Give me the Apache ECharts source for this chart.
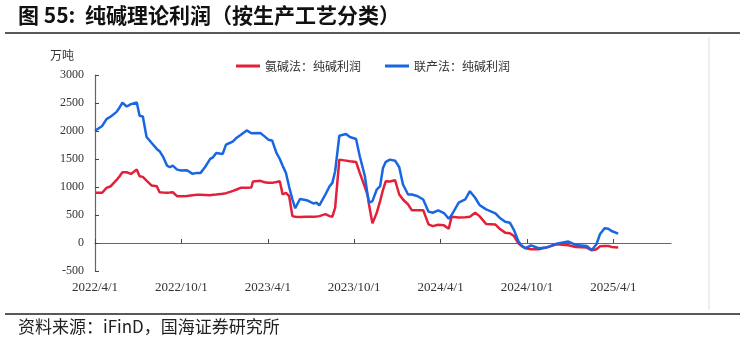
<!DOCTYPE html>
<html><head><meta charset="utf-8">
<script src="https://cdn.jsdelivr.net/npm/echarts@6/dist/echarts.min.js"></script>
<style>html,body{margin:0;padding:0;background:#fff}#c{width:744px;height:343px}</style>
</head><body><div id="c"></div>
<script>
const titleText = '图 55:  纯碱理论利润（按生产工艺分类）';
const sourceText = '资料来源：iFinD，国海证券研究所';
const unitText = '万吨';
const seriesNames = ['氨碱法：纯碱利润', '联产法：纯碱利润'];
const dates = [
'2022-04-01','2022-04-16','2022-04-25','2022-05-04','2022-05-16','2022-05-23','2022-05-29','2022-06-07','2022-06-16','2022-06-28',
'2022-07-04','2022-07-11','2022-07-19','2022-07-30','2022-08-10','2022-08-16','2022-08-23','2022-09-01','2022-09-07','2022-09-13',
'2022-09-22','2022-10-01','2022-10-13','2022-10-25','2022-11-04','2022-11-11','2022-11-20','2022-12-01','2022-12-07','2022-12-14',
'2022-12-28','2023-01-04','2023-01-13','2023-01-19','2023-01-27','2023-02-04','2023-02-16','2023-02-25','2023-02-28','2023-03-16',
'2023-03-25','2023-04-02','2023-04-10','2023-04-19','2023-04-26','2023-05-02','2023-05-09','2023-05-16','2023-05-23','2023-05-29',
'2023-06-08','2023-06-22','2023-07-06','2023-07-13','2023-07-19','2023-08-01','2023-08-10','2023-08-16','2023-08-22','2023-08-31',
'2023-09-14','2023-09-22','2023-10-05','2023-10-13','2023-10-24','2023-10-30','2023-11-02','2023-11-09','2023-11-18','2023-11-25',
'2023-12-01','2023-12-07','2023-12-16','2023-12-27','2024-01-05','2024-01-13','2024-01-24','2024-02-01','2024-02-12','2024-02-24',
'2024-03-06','2024-03-15','2024-03-27','2024-04-08','2024-04-18','2024-04-24','2024-05-09','2024-05-23','2024-06-02','2024-06-13',
'2024-06-22','2024-07-06','2024-07-26','2024-08-04','2024-08-16','2024-08-26','2024-09-04','2024-09-13','2024-09-20','2024-09-28',
'2024-10-10','2024-10-26','2024-11-11','2024-12-03','2024-12-28','2025-01-13','2025-02-05','2025-02-15','2025-02-24','2025-03-03',
'2025-03-13','2025-03-21','2025-03-28','2025-04-01','2025-04-11'
];
const ammoniaSoda = [
897,897,985,1014,1121,1192,1263,1263,1234,1311,
1192,1181,1115,1026,1014,907,900,897,900,907,
836,836,840,854,861,861,858,854,860,865,
879,890,914,930,955,985,988,991,1098,1110,
1085,1074,1074,1090,1103,866,897,836,480,470,
463,470,470,475,480,516,480,470,630,1489,
1471,1460,1448,1252,1000,850,680,350,541,747,
950,1103,1098,1121,866,777,688,587,587,587,
333,302,327,315,256,470,455,460,470,541,
480,340,330,256,185,173,125,-5,-53,-95,
-112,-112,-82,-23,-40,-70,-82,-130,-112,-60,
-53,-53,-70,-94,-82
];
const jointProcess = [
2005,2090,2213,2260,2337,2420,2508,2437,2480,2508,
2272,2260,1893,1786,1680,1640,1548,1382,1352,1382,
1310,1293,1299,1235,1252,1252,1352,1501,1530,1608,
1590,1756,1790,1815,1880,1930,2010,1960,1951,1964,
1904,1845,1832,1608,1500,1380,1252,1000,780,620,
785,765,706,719,671,866,1014,1074,1281,1916,
1946,1893,1857,1548,1192,850,719,747,955,1014,
1341,1450,1489,1470,1352,1044,866,866,840,777,
560,540,582,535,434,500,719,777,925,808,
680,600,530,452,380,363,230,30,-50,-90,
-41,-94,-82,-11,25,-35,-53,-125,-23,155,
262,256,214,200,167
];
const yTicks = {min: -500, max: 3000, step: 500};
const xMonthsMax = 40;
const xMonthStep = 6;

function toMonths(s) {
  const [y, m, d] = s.split('-').map(Number);
  const dim = new Date(y, m, 0).getDate();
  return (y - 2022) * 12 + (m - 4) + (d - 1) / dim;
}
function monthLabel(v) {
  const total = 3 + v; // April 2022 = month index 3
  const y = 2022 + Math.floor(total / 12);
  const m = (total % 12) + 1;
  return y + '/' + m + '/1';
}

const chart = echarts.init(document.getElementById('c'), null, {renderer: 'canvas'});
const cjk = '"Noto Sans CJK SC", sans-serif';
const serif = '"Liberation Serif", "DejaVu Serif", serif';
chart.setOption({
  animation: false,
  backgroundColor: '#fff',
  grid: {left: 95, right: 73, top: 75, bottom: 72, containLabel: false},
  legend: {
    left: 231, top: 55, itemWidth: 24, itemHeight: 3, itemGap: 24, icon: 'rect',
    textStyle: {fontFamily: cjk, fontSize: 12, color: '#333'},
    data: seriesNames
  },
  xAxis: {
    type: 'value', min: 0, max: xMonthsMax, interval: xMonthStep,
    axisLine: {onZero: true, lineStyle: {color: '#666', width: 1.2}},
    axisTick: {inside: true, length: 4, lineStyle: {color: '#444'}},
    splitLine: {show: false},
    axisLabel: {margin: 10, showMaxLabel: false, formatter: monthLabel,
      fontFamily: serif, fontSize: 13, color: '#333'}
  },
  yAxis: {
    type: 'value', min: yTicks.min, max: yTicks.max, interval: yTicks.step,
    axisLine: {show: true, lineStyle: {color: '#666', width: 1.2}},
    axisTick: {show: true, inside: true, length: 4, lineStyle: {color: '#444'}},
    splitLine: {show: false},
    axisLabel: {margin: 11, formatter: v => String(v), fontFamily: serif, fontSize: 12, color: '#333'}
  },
  graphic: [
    {type: 'text', left: 18, top: 5, style: {text: titleText, font: 'bold 21px "Noto Sans CJK SC", sans-serif', fill: '#111'}},
    {type: 'line', shape: {x1: 5, y1: 33, x2: 740, y2: 33}, style: {stroke: '#222', lineWidth: 1.5}},
    {type: 'line', shape: {x1: 709, y1: 37, x2: 709, y2: 310}, style: {stroke: '#ddd', lineWidth: 1}},
    {type: 'text', left: 50, top: 49, style: {text: unitText, font: '12px "Noto Sans CJK SC", sans-serif', fill: '#333'}},
    {type: 'line', shape: {x1: 5, y1: 314, x2: 740, y2: 314}, style: {stroke: '#222', lineWidth: 1.5}},
    {type: 'text', left: 18, top: 318, style: {text: sourceText, font: '17px "Noto Sans CJK SC", sans-serif', fill: '#222'}}
  ],
  series: [
    {name: seriesNames[0], type: 'line', showSymbol: false, symbol: 'none',
      lineStyle: {color: '#E3203A', width: 2.5}, itemStyle: {color: '#E3203A'},
      data: dates.map((d, i) => [toMonths(d), ammoniaSoda[i]])},
    {name: seriesNames[1], type: 'line', showSymbol: false, symbol: 'none',
      lineStyle: {color: '#1866E0', width: 2.5}, itemStyle: {color: '#1866E0'},
      data: dates.map((d, i) => [toMonths(d), jointProcess[i]])}
  ]
});
</script></body></html>
